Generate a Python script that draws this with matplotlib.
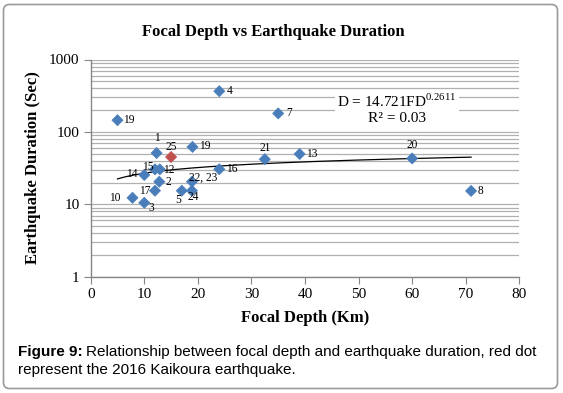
import matplotlib
matplotlib.use("Agg")
import matplotlib.pyplot as plt
import numpy as np
from matplotlib.patches import FancyBboxPatch

plt.rcParams['mathtext.fontset'] = 'custom'
plt.rcParams['mathtext.rm'] = 'Liberation Serif'

# ---- data ----
labels = ['19', '4', '7', '1', '25', '19', '15', '12', '14', '16', '21', '13',
          '20', '8', '2', '22, 23', '17', '5', '24', '10', '3']
depth = [5, 24, 35, 12.3, 15, 19, 12.0, 12.9, 10, 24, 32.5, 39,
         60, 71, 12.8, 18.9, 12.0, 17, 18.9, 7.8, 10]
duration = [145, 365, 180, 51, 45, 62, 30.4, 30.4, 25.4, 30.5, 42, 49.5,
            43, 15.3, 20.5, 20.5, 15.4, 15.4, 15.4, 12.3, 10.5]
highlight = '25'
fit_coef = 14.721
fit_exp = 0.2611
r2 = 0.03
x_ticks = [0, 10, 20, 30, 40, 50, 60, 70, 80]
y_ticks = [1, 10, 100, 1000]

# label offsets (pixels) – style only
offsets = [(11, 0), (10, 0), (11, 0), (0, 15), (0, 10), (12, 1), (-7, 2), (9, -1),
           (-12, 1), (13, 0), (0, 11), (12, 0), (0, 13), (9, 0), (9, 0), (11, 4),
           (-10, 0), (-4, -9), (1, -6), (-18, 0), (7, -5)]

W, H = 563, 393
fig = plt.figure(figsize=(W / 100, H / 100), dpi=100)

# background border
bg = fig.add_axes([0, 0, 1, 1])
bg.set_xlim(0, W)
bg.set_ylim(H, 0)
bg.axis('off')
bg.add_patch(FancyBboxPatch((3.5, 4.5), 554, 384, boxstyle="round,pad=0,rounding_size=6",
                            fc='white', ec='#9a9a9a', lw=1.2))

ax = fig.add_axes([90.7 / W, 1 - 276.7 / H, (519.3 - 90.7) / W, (276.7 - 59.5) / H])
ax.set_facecolor('none')
ax.set_yscale('log')
ax.set_xlim(0, 80)
ax.set_ylim(1, 1000)
ax.set_xticks(x_ticks)
ax.set_yticks(y_ticks)
ax.set_xticklabels([str(t) for t in x_ticks], fontfamily='Liberation Serif', fontsize=11)
ax.set_yticklabels([str(t) for t in y_ticks], fontfamily='Liberation Serif', fontsize=11)
ax.yaxis.set_minor_formatter(matplotlib.ticker.NullFormatter())
ax.tick_params(axis='y', which='minor', length=0)
ax.tick_params(which='major', direction='out', length=5, color='#868686', pad=3)
ax.grid(True, which='both', axis='y', color='#b0b0b0', lw=0.9)
ax.set_axisbelow(True)
for s in ['top', 'right']:
    ax.spines[s].set_visible(False)
for s in ['left', 'bottom']:
    ax.spines[s].set_color('#868686')
    ax.spines[s].set_linewidth(1)

# trend line
xs = np.linspace(min(depth), max(depth), 200)
ax.plot(xs, fit_coef * xs ** fit_exp, color='black', lw=0.9, zorder=3)

colors = ['#c0504d' if l == highlight else '#4a7ebb' for l in labels]
ax.scatter(depth, duration, marker='D', s=32, c=colors, edgecolors=colors, lw=0.5, zorder=4)

for lab, x, y, (dx, dy) in zip(labels, depth, duration, offsets):
    ax.annotate(lab, (x, y), xytext=(dx, dy), textcoords='offset pixels',
                ha='center', va='center', fontsize=8.3, fontfamily='Liberation Serif', zorder=5)

# equation
fig.text(397 / W, 1 - 101 / H, r'D = 14.721FD$^{0.2611}$', ha='center', va='center',
         fontsize=11, fontfamily='Liberation Serif',
         bbox=dict(fc='white', ec='none', pad=2))
fig.text(397 / W, 1 - 118 / H, 'R² = 0.03', ha='center', va='center',
         fontsize=11, fontfamily='Liberation Serif',
         bbox=dict(fc='white', ec='none', pad=2))

# titles
fig.text(273.5 / W, 1 - 32 / H, 'Focal Depth vs Earthquake Duration', ha='center', va='center',
         fontsize=12, fontweight='bold', fontfamily='Liberation Serif')
fig.text(305 / W, 1 - 318 / H, 'Focal Depth (Km)', ha='center', va='center',
         fontsize=12, fontweight='bold', fontfamily='Liberation Serif')
fig.text(33 / W, 1 - 168 / H, 'Earthquake Duration (Sec)', ha='center', va='center', rotation=90,
         fontsize=12, fontweight='bold', fontfamily='Liberation Serif')

# caption
renderer = fig.canvas.get_renderer()
t1 = fig.text(18 / W, 1 - 352 / H, 'Figure 9:', ha='left', va='center',
              fontsize=11, fontweight='bold', fontfamily='Liberation Sans')
bb = t1.get_window_extent(renderer)
fig.text((bb.x1 + 3) / W, 1 - 352 / H,
         'Relationship between focal depth and earthquake duration, red dot',
         ha='left', va='center', fontsize=11, fontfamily='Liberation Sans')
fig.text(18 / W, 1 - 370 / H, 'represent the 2016 Kaikoura earthquake.', ha='left', va='center',
         fontsize=11, fontfamily='Liberation Sans')

fig.savefig('out.png', dpi=100)
